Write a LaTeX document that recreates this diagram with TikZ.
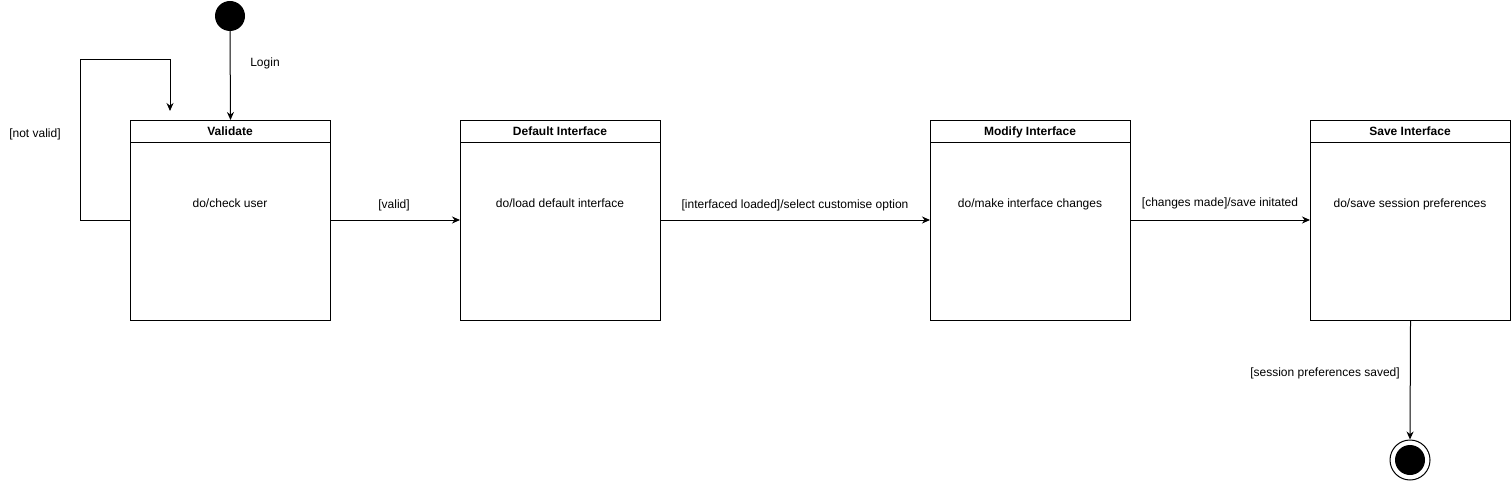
\documentclass[tikz,border=0pt]{standalone}
\usepackage{fontspec}
\setmainfont{Liberation Sans}
\usetikzlibrary{arrows.meta}
\begin{document}
\begin{tikzpicture}[x=1pt,y=-1pt,
  font=\fontsize{12}{14}\selectfont,
  state/.style={draw,line width=1pt,minimum width=200pt,minimum height=200pt,anchor=north west,inner sep=0pt},
  conn/.style={line width=1pt,-{Stealth[length=8pt,width=7pt]}},
  lbl/.style={inner sep=0pt,text height=9pt,text depth=2.5pt,yshift=-1pt}]
\useasboundingbox (0,0) rectangle (1511,481);
% initial
\node[circle,fill=black,minimum size=30pt,inner sep=0pt] (init) at (230,16) {};
% states
\foreach \nm/\x/\title/\body in {val/130/Validate/do\slash check user,
  def/460/Default Interface/do\slash load default interface,
  mod/930/Modify Interface/do\slash make interface changes,
  sav/1310/Save Interface/do\slash save session preferences}{
  \node[state] (\nm) at (\x,120) {};
  \draw[line width=1pt] (\x,143) -- (\x+200,143);
  \node[lbl,font=\fontsize{12}{14}\selectfont\bfseries] (\nm-t) at (\x+100,131.5) {\title};
  \node[lbl] (\nm-b) at (\x+100,203) {\body};
}
% final
\node[circle,draw,line width=1pt,minimum size=40pt,inner sep=0pt] (fin) at (1410,460) {};
\node[circle,fill=black,minimum size=30pt,inner sep=0pt] at (fin) {};
% connectors
\draw[conn] (init.south) -- (val.north);
\node[lbl] (login) at (265,62.5) {Login};
\coordinate (lp1) at (80,220);
\coordinate (lp2) at (80,60);
\coordinate (lp3) at (170,60);
\coordinate (lp4) at (170,111);
\draw[conn] (val.west |- 0,220) -- (lp1) -- (lp2) -- (lp3) -- (lp4);
\node[lbl] (nv) at (35,133.5) {[not valid]};
\draw[conn] (val.east |- 0,220) -- (def.west |- 0,220);
\node[lbl] at (394,204.5) {[valid]};
\draw[conn] (def.east |- 0,220) -- (mod.west |- 0,220);
\node[lbl] at (795,204.5) {[interfaced loaded]/select customise option};
\draw[conn] (mod.east |- 0,220) -- (sav.west |- 0,220);
\node[lbl] at (1220,202.5) {[changes made]/save initated};
\draw[conn] (sav.south) -- (fin.north);
\node[lbl] at (1325,372.5) {[session preferences saved]};
\end{tikzpicture}
\end{document}
